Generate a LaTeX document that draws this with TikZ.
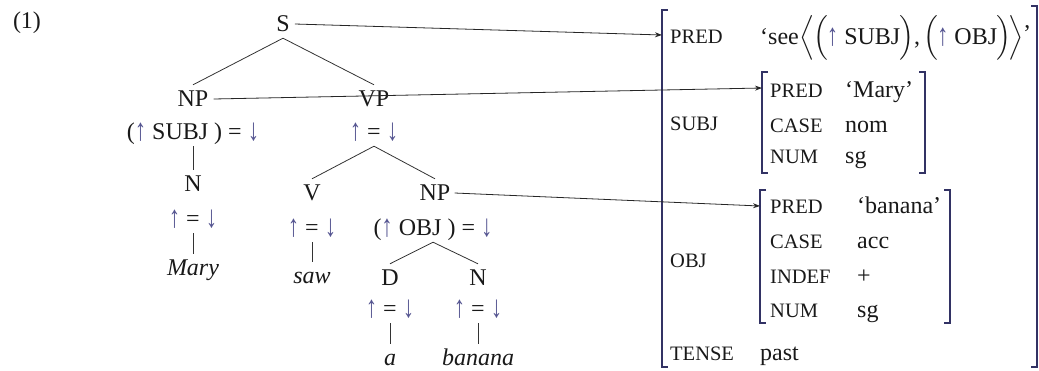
\documentclass[tikz,border=0pt]{standalone}
\usepackage{amsmath}
\usepackage{graphicx}
\usepackage{fontspec}
\setmainfont{Liberation Serif}
\usetikzlibrary{arrows.meta}
\definecolor{arrc}{RGB}{85,85,145}
\definecolor{brc}{RGB}{50,50,100}
\definecolor{txt}{RGB}{25,25,25}
\newcommand{\upa}{{\color{arrc}\raisebox{-1.5pt}{\scalebox{0.95}[1.3]{↑}}}}
\newcommand{\dna}{{\color{arrc}\raisebox{-1.5pt}{\scalebox{0.95}[1.3]{↓}}}}
\makeatletter
\newcommand{\myopen}[2]{\mathopen{\bBigg@{#1}#2}}
\newcommand{\myclose}[2]{\mathclose{\bBigg@{#1}#2}}
\makeatother
\begin{document}
\begin{tikzpicture}[x=1pt,y=-1pt,
  every node/.style={text=txt, font=\fontsize{24}{28}\selectfont},
  tn/.style={anchor=base, inner sep=0pt, text height=21pt, text depth=7pt},
  leaf/.style={tn, text depth=1pt},
  lab/.style={anchor=base west, inner sep=0pt, font=\fontsize{20.5}{24}\selectfont},
  val/.style={anchor=base west, inner sep=0pt},
  br/.style={draw=brc, line width=1.1pt},
  tree/.style={draw=black!80, line width=0.8pt},
  conn/.style={draw=black!85, line width=0.8pt, -{Stealth[length=7pt,width=5pt]}}]
\useasboundingbox (0,0) rectangle (1039,370);
% tree
\node[tn] (ex) at (27,28) {(1)};
\node[tn] (S) at (283,31) {S};
\node[tn] (NP1) at (193,106) {NP};
\node[tn] (VP) at (374,106) {VP};
\node[tn] (f1) at (193,139) {(\upa\ SUBJ ) = \dna};
\node[tn] (f2) at (374,139) {\upa\ = \dna};
\node[tn] (N1) at (193,191) {N};
\node[tn] (f3) at (193,226) {\upa\ = \dna};
\node[tn] (mary) at (193,275) {\textit{Mary}};
\node[tn] (V) at (312,200) {V};
\node[tn] (NP2) at (435,200) {NP};
\node[tn] (f4) at (312,235) {\upa\ = \dna};
\node[tn] (f5) at (433,235) {(\upa\ OBJ ) = \dna};
\node[tn] (saw) at (312,283) {\textit{saw}};
\node[tn] (D) at (390,285) {D};
\node[tn] (N2) at (478,285) {N};
\node[tn] (f6) at (390,316) {\upa\ = \dna};
\node[tn] (f7) at (478,316) {\upa\ = \dna};
\node[leaf] (a) at (390,365) {\textit{a}};
\node[leaf] (ban) at (478,365) {\textit{banana}};
\draw[tree] (S.south) -- (NP1.north);
\draw[tree] (S.south) -- (VP.north);
\draw[tree] (f1.south) -- (N1.north);
\draw[tree] (f3.south) -- (mary.north);
\draw[tree] (f2.south) -- (V.north);
\draw[tree] (f2.south) -- (NP2.north);
\draw[tree] (f4.south) -- (saw.north);
\draw[tree] (f5.south) -- (D.north);
\draw[tree] (f5.south) -- (N2.north);
\draw[tree] (f6.south) -- (a.north);
\draw[tree] (f7.south) -- (ban.north);
% AVM brackets
\draw[br] (668,10) -- (662,10) -- (662,367) -- (668,367);
\draw[br] (1031,6) -- (1037,6) -- (1037,367) -- (1031,367);
\draw[br] (768,72) -- (762,72) -- (762,173) -- (768,173);
\draw[br] (919,72) -- (925,72) -- (925,173) -- (919,173);
\draw[br] (766,190) -- (760,190) -- (760,323) -- (766,323);
\draw[br] (944,190) -- (950,190) -- (950,323) -- (944,323);
% AVM content
\node[lab] (pred0) at (670,43) {PRED};
\node[val] (see) at (760,44) {‘see\kern1pt$\myopen{1.25}{\langle}\kern-2pt\myopen{1.2}{(}$\kern-1pt\upa\ SUBJ\kern-1pt$\myclose{1.2}{)}$,\kern3pt$\myopen{1.2}{(}$\kern-1pt\upa\ OBJ\kern-1pt$\myclose{1.2}{)}\kern-2pt\myclose{1.25}{\rangle}$\kern-1pt\raisebox{3pt}{’}};
\node[lab] (subj) at (670,130) {SUBJ};
\node[lab] (p1) at (770,97) {PRED};
\node[val] (v1) at (845,97) {‘Mary’};
\node[lab] (c1) at (770,132) {CASE};
\node[val] (v2) at (845,132) {nom};
\node[lab] (n1) at (770,163) {NUM};
\node[val] (v3) at (845,163) {sg};
\node[lab] (obj) at (670,267) {OBJ};
\node[lab] (p2) at (770,213) {PRED};
\node[val] (w1) at (857,213) {‘banana’};
\node[lab] (c2) at (770,248) {CASE};
\node[val] (w2) at (857,248) {acc};
\node[lab] (i2) at (770,283) {INDEF};
\node[val] (w3) at (857,283) {+};
\node[lab] (n2) at (770,317) {NUM};
\node[val] (w4) at (857,317) {sg};
\node[lab] (tense) at (670,360) {TENSE};
\node[val] (past) at (760,360) {past};
% connectors
\coordinate (tPred) at (662,35);
\coordinate (tSubj) at (762,88);
\coordinate (tObj) at (760,206);
\draw[conn] ([xshift=5pt]S.east) -- (tPred);
\draw[conn] ([xshift=5pt]NP1.east) -- (tSubj);
\draw[conn] ([xshift=4pt]NP2.east) -- (tObj);
\end{tikzpicture}
\end{document}
